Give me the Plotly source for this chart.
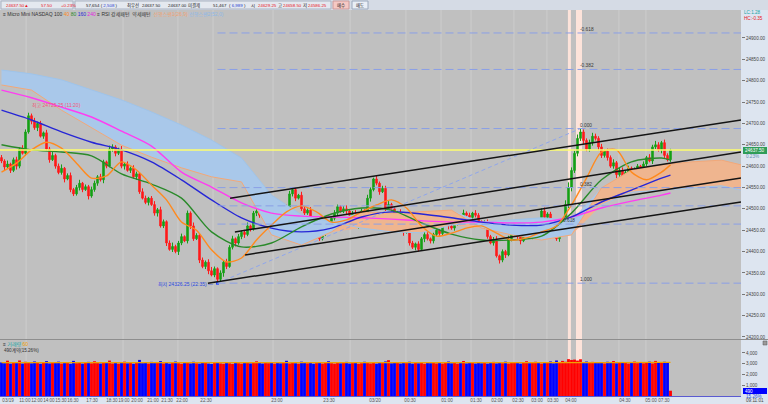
import plotly.graph_objects as go

W, H = 768, 404
FONT = "Liberation Sans, Noto Sans CJK KR, sans-serif"

# ---------------- data ----------------
closes = [
    24612, 24598, 24605, 24590, 24615, 24600, 24640, 24630, 24680, 24718, 24705, 24690, 24700, 24670, 24678, 24640,
    24615, 24625, 24600, 24585, 24595, 24570, 24578, 24545, 24535, 24550, 24560, 24545, 24552, 24530, 24545, 24560,
    24575, 24568, 24610, 24600, 24640, 24645, 24630, 24638, 24600, 24605, 24590, 24595, 24575, 24582, 24540, 24525,
    24515, 24525, 24510, 24490, 24498, 24460, 24470, 24420, 24405, 24412, 24400, 24420, 24435, 24425, 24490, 24460,
    24430, 24438, 24380, 24365, 24375, 24355, 24345, 24360, 24335, 24350, 24375, 24365, 24410, 24430, 24420, 24435,
    24445, 24440, 24460, 24452, 24490, 24495, 24485, 24480, 24490, 24500, 24495, 24505, 24490, 24485, 24505, 24498,
    24535, 24545, 24525, 24532, 24500, 24490, 24497, 24470, 24455, 24462, 24430, 24445, 24460, 24452, 24478, 24490,
    24505, 24495, 24500, 24495, 24485, 24490, 24460, 24480, 24495, 24488, 24525, 24545, 24570, 24560, 24540, 24548,
    24500, 24510, 24500, 24485, 24492, 24460, 24445, 24452, 24420, 24410, 24418, 24405, 24430, 24440, 24430, 24425,
    24440, 24450, 24442, 24470, 24475, 24460, 24455, 24465, 24475, 24468, 24490, 24485, 24480, 24490, 24485, 24470,
    24460, 24468, 24435, 24420, 24428, 24390, 24380, 24400, 24392, 24430, 24440, 24445, 24435, 24425, 24440, 24445,
    24435, 24445, 24460, 24452, 24495, 24480, 24488, 24450, 24440, 24430, 24445, 24470, 24510, 24550, 24590, 24630,
    24665, 24680, 24660, 24640, 24655, 24670, 24665, 24645, 24625, 24635, 24620, 24600, 24608, 24580, 24590, 24575,
    24585, 24595, 24580, 24590, 24600, 24595, 24605, 24620, 24612, 24645, 24650, 24638, 24655, 24625, 24615, 24637.5,
]
first_open = 24620
wick_up = [
    6, 4, 8, 3, 5, 7, 4, 9, 6, 7, 5, 8, 4, 6, 3, 7,
    5, 8, 4, 6, 9, 3, 5, 7, 4, 6, 8, 3, 5, 4, 7, 6,
    4, 7, 5, 3, 8, 6, 4, 5, 9, 3, 6, 4, 7, 5, 3, 8,
    6, 3, 5, 8, 4, 7, 5, 3, 6, 9, 4, 5, 7, 3, 6, 4,
    8, 5, 3, 6, 4, 7, 9, 5, 3, 6, 4, 8, 5, 7, 3, 6,
    4, 6, 8, 3, 5, 7, 4, 6, 3, 9, 5, 4, 6, 8, 3, 5,
    7, 4, 6, 3, 8, 5, 4, 7, 6, 3, 5, 9, 4, 6, 3, 7,
    5, 3, 6, 8, 4, 5, 7, 3, 6, 4, 8, 5, 3, 7, 4, 6,
    6, 8, 4, 5, 3, 7, 6, 4, 9, 5, 3, 6, 4, 7, 5, 3,
    4, 6, 3, 8, 5, 4, 7, 3, 6, 5, 8, 4, 6, 3, 7, 5,
    3, 5, 7, 4, 6, 8, 3, 5, 4, 7, 6, 3, 8, 5, 4, 6,
    7, 4, 5, 3, 6, 8, 4, 5, 7, 6, 9, 8, 10, 12, 7, 6,
    9, 8, 6, 5, 7, 8, 6, 5, 7, 4, 6, 5, 8, 4, 6, 7,
    5, 6, 4, 7, 5, 3, 6, 4, 8, 5, 9, 6, 4, 7, 5, 3,
]
wick_dn = [
    5, 7, 3, 6, 4, 8, 5, 3, 6, 4, 7, 5, 8, 3, 6, 4,
    7, 3, 6, 4, 5, 8, 3, 6, 5, 4, 7, 6, 3, 8, 4, 5,
    6, 4, 8, 5, 3, 6, 7, 4, 5, 8, 3, 6, 4, 7, 5, 3,
    4, 7, 3, 6, 8, 4, 5, 7, 3, 6, 4, 8, 5, 3, 6, 7,
    5, 3, 7, 4, 6, 8, 3, 5, 9, 4, 9, 6, 3, 5, 8, 4,
    6, 8, 4, 5, 3, 7, 6, 4, 8, 5, 3, 6, 7, 4, 5, 3,
    4, 6, 7, 3, 5, 8, 4, 6, 3, 7, 5, 4, 8, 6, 3, 5,
    7, 4, 5, 8, 3, 6, 4, 7, 5, 3, 6, 8, 4, 5, 7, 3,
    5, 3, 6, 4, 7, 5, 8, 3, 6, 4, 7, 5, 3, 8, 4, 6,
    6, 4, 7, 5, 3, 8, 4, 6, 5, 7, 3, 6, 4, 8, 5, 3,
    4, 7, 5, 3, 6, 4, 8, 5, 7, 3, 6, 4, 5, 8, 3, 6,
    5, 6, 4, 7, 3, 5, 6, 8, 4, 5, 7, 6, 5, 8, 9, 6,
    7, 6, 8, 5, 6, 7, 5, 8, 6, 5, 7, 4, 6, 8, 5, 4,
    6, 4, 7, 5, 8, 4, 6, 5, 3, 7, 5, 4, 8, 6, 4, 5,
]
volumes = [
    3120, 3050, 3280, 3010, 3150, 3060, 3300, 3020, 3180, 3090, 3040, 3210, 3070, 3000, 3160, 3240,
    3030, 3110, 3060, 3190, 3020, 3080, 3140, 3000, 3260, 3050, 3120, 3010, 3090, 3170, 3040, 3230,
    3060, 3020, 3150, 3080, 3290, 3030, 3100, 3010, 3070, 3190, 3040, 3120, 3000, 3080, 3350, 3050,
    3110, 3020, 3170, 3060, 3090, 3240, 3030, 3140, 3010, 3080, 3200, 3050, 3000, 3120, 3070, 3030,
    3180, 3040, 3010, 3090, 3150, 3020, 2980, 3060, 3110, 3030, 3000, 3070, 3040, 2990, 3130, 3050,
    3010, 3080, 3150, 3030, 3100, 3220, 3060, 3020, 3130, 3050, 3090, 3010, 3160, 3040, 3080, 3270,
    3030, 3120, 3050, 3010, 3190, 3070, 3040, 3110, 3000, 3060, 3150, 3020, 3090, 3230, 3050, 3010,
    3100, 3040, 3080, 3170, 3020, 3060, 3120, 3000, 3050, 3180, 3090, 3030, 3140, 3010, 3070, 3060,
    3210, 3330, 3040, 3090, 3150, 3020, 3100, 3060, 3180, 3010, 3070, 3040, 3120, 3000, 3160, 3050,
    3090, 3030, 3140, 3020, 3080, 3200, 3040, 3110, 3010, 3060, 3250, 3030, 3090, 3150, 3020, 3070,
    3040, 3120, 3010, 3080, 3170, 3030, 3100, 3050, 3190, 3020, 3080, 3140, 3060, 3010, 3110, 3230,
    3050, 3130, 3180, 3070, 3020, 3160, 3090, 3210, 3040, 3300, 3120, 3260, 3180, 3420, 3350, 3380,
    3290, 3410, 3150, 3200, 3080, 3170, 3120, 3060, 3140, 3030, 3180, 3090, 3250, 3040, 3110, 3070,
    3160, 3020, 3090, 3200, 3050, 3130, 3040, 3080, 3190, 3030, 3260, 3120, 3090, 3180, 3070, 490,
]

# moving averages (sampled along the bars)
ma40_idx = list(range(0, 221, 5)) + [223]
ma40 = [24586, 24607, 24638, 24656, 24642, 24607, 24572, 24577, 24610, 24591, 24556, 24521,
        24469, 24450, 24404, 24376, 24385, 24427, 24462, 24493, 24507, 24493, 24469, 24474,
        24493, 24509, 24521, 24502, 24460, 24436, 24443, 24455, 24460, 24443, 24427, 24432,
        24446, 24460, 24509, 24572, 24633, 24638, 24586, 24568, 24586, 24603]
ma_idx = list(range(0, 221, 10)) + [223]
ma80 = [24650, 24638, 24633, 24624, 24582, 24558, 24525, 24446, 24411, 24420, 24458, 24488,
        24502, 24497, 24467, 24441, 24427, 24427, 24436, 24490, 24568, 24610, 24619, 24614]
ma160 = [24731, 24708, 24680, 24656, 24638, 24610, 24568, 24521, 24479, 24455, 24446, 24455,
         24481, 24493, 24488, 24479, 24469, 24462, 24462, 24481, 24516, 24544, 24572, 24579]
ma240 = [24778, 24760, 24738, 24715, 24682, 24647, 24586, 24551, 24514, 24490, 24483, 24481,
         24479, 24476, 24472, 24469, 24469, 24467, 24469, 24481, 24502, 24518, 24532, 24537]

# ichimoku leading spans (extend past the last bar)
cloud_idx = list(range(0, 241, 10)) + [246.5]
span1 = [24790, 24778, 24731, 24689, 24649, 24621, 24596, 24575, 24563, 24439, 24415, 24446,
         24493, 24490, 24493, 24497, 24455, 24439, 24427, 24439, 24549, 24591, 24603, 24610,
         24614, 24603]
span2 = [24825, 24816, 24802, 24778, 24755, 24727, 24696, 24661, 24619, 24532, 24486, 24469,
         24455, 24446, 24444, 24462, 24469, 24474, 24479, 24474, 24509, 24539, 24544, 24549,
         24554, 24544]

vol_ma_idx = list(range(0, 221, 20)) + [223]
vol_ma = [3090, 3085, 3080, 3078, 3072, 3070, 3082, 3088, 3080, 3075, 3095, 3120, 3125]

tick_idx = [2.2, 7.8, 11.8, 15.8, 19.8, 23.8, 30.2, 36.8, 40.8, 45.2, 50.5, 55.2, 60.2, 68.2,
            91.8, 109.2, 124.5, 136.2, 148.5, 158.2, 165.2, 172.2, 178.5, 183.8, 189.8, 207.8,
            216.5, 220.8]
tick_labels = ["03/19", "11:00", "12:00", "14:00", "15:30", "16:30", "17:30", "18:30", "19:00",
               "20:00", "21:00", "21:30", "22:00", "22:30", "23:00", "23:30", "03/20", "00:30",
               "01:00", "01:30", "02:00", "02:30", "03:00", "03:30", "04:00", "04:30", "05:00",
               "07:30"]
grid_idx = [8.2, 40.5, 58.8, 70.5, 90.5, 116.2, 134.8, 146.5, 156.5, 170.8, 181.8, 205.8, 214.8]
event_bands = [(188.8, 189.8), (191.5, 193.5)]

fib_levels = [-0.618, -0.382, 0.0, 0.382, 0.5, 0.618, 1.0]
fib_labels = ["-0.618", "-0.382", "0.000", "0.382", "", "0.618", "1.000"]

# drawn regression-channel lines: (start idx, start price, end idx, end price)
channel_lines = [
    (76.2, 24525, 246.5, 24708),
    (77.8, 24446, 246.5, 24633),
    (81.2, 24392, 246.5, 24572),
    (68.8, 24326, 246.5, 24516),
]

# ---------------- derived ----------------
opens = [first_open] + closes[:-1]
highs = [max(o, c) + u for o, c, u in zip(opens, closes, wick_up)]
lows = [min(o, c) - d for o, c, d in zip(opens, closes, wick_dn)]
idx = list(range(len(closes)))
X_RANGE = [-0.5, 246.5]

low_i = lows.index(min(lows))
fib_low = lows[low_i]
high_i = max(range(low_i, len(highs)), key=lambda k: highs[k])
fib_high = highs[high_i]
last_close = closes[-1]


def X(p):
    return p / W


def Y(p):
    return 1 - p / H


UP, DN = "#16a016", "#ff1a1a"
fig = go.Figure()

# cloud
up_env = [max(a, b) for a, b in zip(span1, span2)]
dn_env = [min(a, b) for a, b in zip(span1, span2)]
common = dict(mode="lines", hoverinfo="skip", xaxis="x", yaxis="y")
fig.add_trace(go.Scatter(x=cloud_idx, y=span1, line=dict(width=0), **common))
fig.add_trace(go.Scatter(x=cloud_idx, y=up_env, line=dict(width=0), fill="tonexty",
                         fillcolor="#a9c8ea", **common))
fig.add_trace(go.Scatter(x=cloud_idx, y=span1, line=dict(width=0), **common))
fig.add_trace(go.Scatter(x=cloud_idx, y=dn_env, line=dict(width=0), fill="tonexty",
                         fillcolor="#efb58f", **common))
fig.add_trace(go.Scatter(x=cloud_idx, y=span1, line=dict(color="#f3a878", width=1), **common))
fig.add_trace(go.Scatter(x=cloud_idx, y=span2, line=dict(color="#9fc4ea", width=1), **common))

# candles
fig.add_trace(go.Candlestick(
    x=idx, open=opens, high=highs, low=lows, close=closes,
    increasing=dict(line=dict(color=UP, width=1), fillcolor=UP),
    decreasing=dict(line=dict(color=DN, width=1), fillcolor=DN),
    whiskerwidth=0, xaxis="x", yaxis="y", hoverinfo="skip"))

# moving averages
for xs, ys, col in [(ma_idx, ma240, "#ff3cf2"), (ma_idx, ma160, "#2626d6"),
                    (ma_idx, ma80, "#2a8a2a"), (ma40_idx, ma40, "#ff8a1e")]:
    fig.add_trace(go.Scatter(x=xs, y=ys, line=dict(color=col, width=1.4, shape="spline", smoothing=0.8),
                             **common))

# low marker
fig.add_trace(go.Scatter(x=[low_i], y=[fib_low], mode="markers",
                         marker=dict(symbol="square", size=3, color="#2040ff"),
                         hoverinfo="skip", xaxis="x", yaxis="y"))

# volume
vol_colors = ["#ff0000" if c >= o else "#0000ff" for o, c in zip(opens, closes)]
fig.add_trace(go.Bar(x=idx, y=volumes, width=0.95, marker=dict(color=vol_colors, line=dict(width=0)),
                     xaxis="x2", yaxis="y2", hoverinfo="skip"))
fig.add_trace(go.Scatter(x=vol_ma_idx, y=vol_ma, mode="lines", line=dict(color="#f0a000", width=1.3),
                         xaxis="x2", yaxis="y2", hoverinfo="skip"))

# ---------------- shapes ----------------
shapes = []
# toolbar
shapes.append(dict(type="rect", xref="paper", yref="paper", x0=0, x1=1, y0=Y(10), y1=1,
                   fillcolor="#d5dbe5", line=dict(width=0), layer="below"))
for a, b in [(1, 73), (75, 331)]:
    shapes.append(dict(type="rect", xref="paper", yref="paper", x0=X(a), x1=X(b), y0=Y(9), y1=Y(1),
                       fillcolor="#e4e8ef", line=dict(color="#aab3c2", width=1), layer="below"))
shapes.append(dict(type="rect", xref="paper", yref="paper", x0=X(333), x1=X(349), y0=Y(9), y1=Y(1),
                   fillcolor="#f5c8c4", line=dict(color="#c99", width=1)))
shapes.append(dict(type="rect", xref="paper", yref="paper", x0=X(352), x1=X(368), y0=Y(9), y1=Y(1),
                   fillcolor="#e9eef6", line=dict(color="#9aa8bc", width=1)))
# grid lines
for g in grid_idx:
    shapes.append(dict(type="line", xref="x", yref="paper", x0=g, x1=g, y0=Y(396), y1=Y(10),
                       line=dict(color="#cdcdcd", width=1), layer="below"))
# event bands
for a, b in event_bands:
    shapes.append(dict(type="rect", xref="x", yref="paper", x0=a, x1=b, y0=Y(396), y1=Y(10),
                       fillcolor="#fde3da", line=dict(width=0), layer="below"))
# panel separator and volume baseline
shapes.append(dict(type="line", xref="paper", yref="paper", x0=0, x1=1, y0=Y(339.5), y1=Y(339.5),
                   line=dict(color="#8e8e8e", width=1)))
shapes.append(dict(type="line", xref="x2", yref="paper", x0=X_RANGE[0], x1=X_RANGE[1],
                   y0=Y(396.5), y1=Y(396.5), line=dict(color="#5a5ad0", width=1)))
# current price line
shapes.append(dict(type="line", xref="x", yref="y", x0=X_RANGE[0], x1=X_RANGE[1],
                   y0=last_close, y1=last_close, line=dict(color="#ffff6e", width=1.5)))
# fibonacci levels
for lv in fib_levels:
    p = fib_high - lv * (fib_high - fib_low)
    shapes.append(dict(type="line", xref="x", yref="y", x0=low_i, x1=X_RANGE[1], y0=p, y1=p,
                       line=dict(color="#8a9fe6", width=1, dash="8px,4px")))
shapes.append(dict(type="line", xref="x", yref="y", x0=low_i, x1=high_i, y0=fib_low, y1=fib_high,
                   line=dict(color="#8fa6ec", width=1, dash="4px,3px")))
# channel lines
for x0, y0, x1, y1 in channel_lines:
    shapes.append(dict(type="line", xref="x", yref="y", x0=x0, x1=x1, y0=y0, y1=y1,
                       line=dict(color="#141414", width=1.5)))
# right axis boxes
shapes.append(dict(type="rect", xref="paper", yref="paper", x0=X(743), x1=X(767), y0=Y(154), y1=Y(147),
                   fillcolor="#2f9d58", line=dict(width=0)))
shapes.append(dict(type="rect", xref="paper", yref="paper", x0=X(743), x1=X(767), y0=Y(394), y1=Y(388),
                   fillcolor="#0000ff", line=dict(width=0)))
shapes.append(dict(type="rect", xref="paper", yref="paper", x0=X(763), x1=X(767), y0=Y(345), y1=Y(341),
                   fillcolor="#9a9a9a", line=dict(color="#555", width=0.5)))

# ---------------- annotations ----------------
ann = []


def txt(px, py, text, color="#222", size=4.5, anchor="left"):
    ann.append(dict(xref="paper", yref="paper", x=X(px), y=Y(py), text=text, showarrow=False,
                    xanchor=anchor, yanchor="middle", borderpad=0,
                    font=dict(size=size, color=color, family=FONT)))


RED = "#e8141a"
TB = 4.4
txt(5, 5, "24637.50▲", RED, TB)
txt(40, 5, "57.50", RED, TB)
txt(60, 5, "+0.23%", RED, TB)
txt(85, 5, "57,654 ( <span style='color:#1f3fd0'>2,508</span> )", "#222", TB)
txt(126, 5, "최우선", "#222", TB)
txt(141, 5, "24637.50", "#222", TB)
txt(167, 5, "24637.00", "#222", TB)
txt(187, 5, "미결제", "#222", TB)
txt(212, 5, "51,467", "#222", TB)
txt(228, 5, "( <span style='color:#1f3fd0'>6,989</span> )", "#222", TB)
txt(250, 5, "시", "#222", TB)
txt(257, 5, "24629.25", RED, TB)
txt(277, 5, "고", "#222", TB)
txt(282, 5, "24658.50", RED, TB)
txt(302, 5, "저", "#222", TB)
txt(307, 5, "24586.25", RED, TB)
txt(341, 5, "매수", "#222", TB, "center")
txt(360, 5, "매도", "#222", TB, "center")

legend = ("≡ Micro Mini NASDAQ 100 <span style='color:#ff8a1e'>40</span> "
          "<span style='color:#2a8a2a'>80</span> <span style='color:#2626d6'>160</span> "
          "<span style='color:#e020e0'>240</span> ≡ RSI 강세패턴  약세패턴  "
          "<span style='color:#f0a070'>선행스팬1(26,9)</span> "
          "<span style='color:#8db8e8'>선행스팬2(52,0)</span>")
txt(2, 14, legend, "#333", 5)
txt(2, 344.5, "≡ <span style='color:#17a6a6'>거래량</span> <span style='color:#f0a000'>60</span>", "#333", 5)
txt(3, 350, "490계약(15.26%)", "#333", 4.6)

txt(743, 12.5, "LC:1.28", "#17a3a3", 4.6)
txt(743, 18, "HC:-0.35", "#e8141a", 4.6)
txt(744, 150.5, "24637.50", "#ffffff", 4.6)
txt(745, 156.5, "0.23%", "#5a8fb0", 4.6)
txt(744, 391, "490", "#ffffff", 4.6)
txt(745, 396, "15.26%", "#2c4fd8", 4.6)
txt(745, 400.5, "09:11:01", "#444", 4.6)

# chart-coordinate labels
ann.append(dict(xref="x", yref="y", x=9.5, y=24741, text="최고 24725.25 (11:20)", showarrow=False,
                xanchor="left", yanchor="middle", font=dict(size=5, color="#f2577a", family=FONT)))
ann.append(dict(xref="x", yref="y", x=low_i - 0.8, y=fib_low - 4, text="최저 24326.25 (22:35) —",
                showarrow=False, xanchor="right", yanchor="middle",
                font=dict(size=5, color="#2a48e0", family=FONT)))
for lv, lab in zip(fib_levels, fib_labels):
    if not lab:
        continue
    p = fib_high - lv * (fib_high - fib_low)
    xi = 186.5 if lab == "0.618" else 192.0
    ann.append(dict(xref="x", yref="y", x=xi, y=p, text=lab, showarrow=False, xanchor="left",
                    yanchor="bottom", yshift=-1, font=dict(size=4.8, color="#3a3a3a", family=FONT)))

# ---------------- layout ----------------
price_ticks = list(range(24200, 24901, 50))
fig.update_layout(
    width=W, height=H, margin=dict(l=0, r=0, t=0, b=0),
    paper_bgcolor="#dde5f0", plot_bgcolor="#c0c0c0",
    showlegend=False, hovermode=False, dragmode=False,
    font=dict(family=FONT, size=5, color="#333"),
    shapes=shapes, annotations=ann,
    xaxis=dict(domain=[0, 741 / W], range=X_RANGE, anchor="y", showticklabels=False, showgrid=False,
               zeroline=False, showline=False, ticks="", rangeslider=dict(visible=False), fixedrange=True),
    xaxis2=dict(domain=[0, 741 / W], range=X_RANGE, anchor="y2", tickmode="array", tickvals=tick_idx,
                ticktext=tick_labels, tickangle=0, tickfont=dict(size=4.6, color="#555", family=FONT),
                showgrid=False, zeroline=False, showline=False, ticks="", fixedrange=True),
    yaxis=dict(domain=[Y(339), Y(10)], range=[24195.3, 24965.5], anchor="x", side="right",
               tickmode="array", tickvals=price_ticks, ticktext=[f"{v:.2f}" for v in price_ticks],
               ticks="outside", ticklen=3, tickcolor="#777", tickfont=dict(size=4.6, color="#444", family=FONT),
               showgrid=False, zeroline=False, showline=False, fixedrange=True),
    yaxis2=dict(domain=[Y(396), Y(340)], range=[0, 5200], anchor="x2", side="right",
                tickmode="array", tickvals=[1000, 2000, 3000, 4000],
                ticktext=["1,000", "2,000", "3,000", "4,000"], ticks="outside", ticklen=3, tickcolor="#777",
                tickfont=dict(size=4.6, color="#444", family=FONT),
                showgrid=False, zeroline=False, showline=False, fixedrange=True),
)

fig.write_html("out.html")
